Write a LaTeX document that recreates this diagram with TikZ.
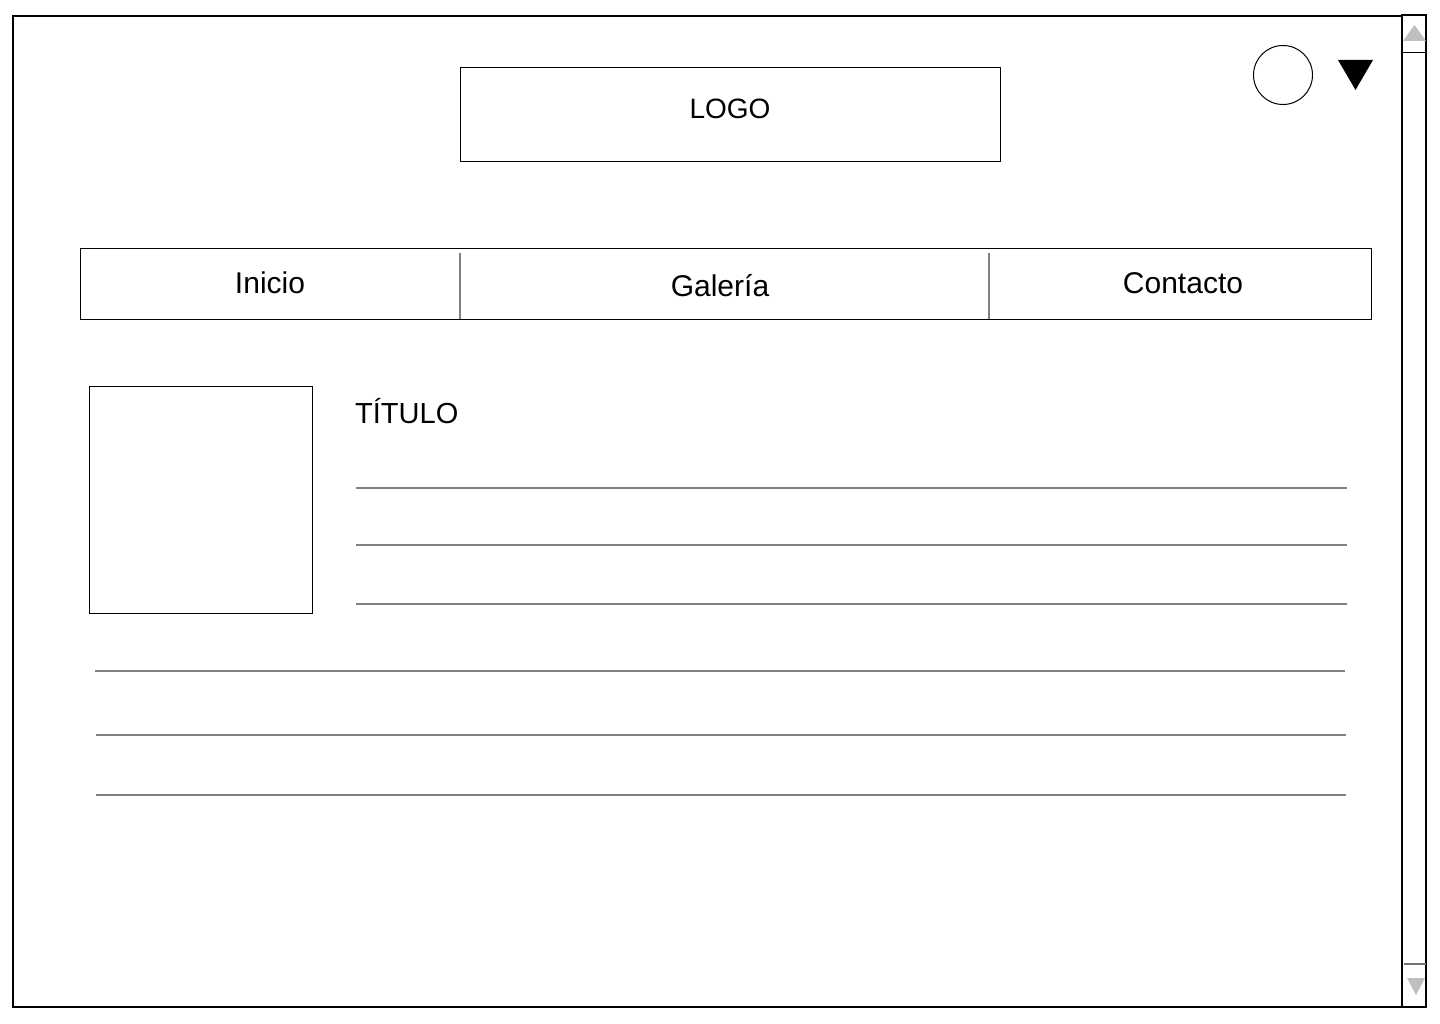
\documentclass[tikz,border=0pt]{standalone}
\usepackage{fontspec}
\setmainfont{Liberation Sans}
\begin{document}
\begin{tikzpicture}[x=1pt,y=-1pt,
  box/.style={draw=black,line width=1pt},
  rule/.style={draw=black!50,line width=1.5pt},
  lbl/.style={inner sep=0pt,anchor=base,font=\fontsize{30}{36}\selectfont}]
\useasboundingbox (0,0) rectangle (1440,1024);
\fill[white] (0,0) rectangle (1440,1024);
% frame and scrollbar
\draw[line width=1.3pt] (13,16) rectangle (1402,1007);
\draw[line width=1.3pt] (1402,15) rectangle (1426,1007);
\draw[line width=1pt] (1402,53) -- (1426,53);
\draw[draw=black!55,line width=1.5pt] (1404,964) -- (1426,964);
\fill[black!25] (1403,41) -- (1426,41) -- (1414.5,25) -- cycle;
\fill[black!25] (1407,978) -- (1425,978) -- (1416,995) -- cycle;
% user icons
\node[draw=black,line width=1pt,circle,minimum size=59pt,inner sep=0pt] (avatar) at (1283,75) {};
\fill[black] (1338,60) -- (1373,60) -- (1355.5,90) -- cycle;
% logo
\node[box,minimum width=540pt,minimum height=94pt,inner sep=0pt] (logo) at (730,115) {};
\node[lbl,font=\fontsize{28}{34}\selectfont] (logotxt) at (730,119) {LOGO};
% nav
\draw[box] (80,249) rectangle (1371,319);
\draw[draw=black!50,line width=1.5pt] (460,253) -- (460,319);
\draw[draw=black!50,line width=1.5pt] (989,253) -- (989,319);
\node[lbl] (inicio) at (270,294) {Inicio};
\node[lbl] (galeria) at (720,297) {Galería};
\node[lbl] (contacto) at (1183,294) {Contacto};
% content
\node[box,minimum width=223pt,minimum height=227pt,inner sep=0pt] (img) at (200.5,499.5) {};
\node[lbl,anchor=base west,font=\fontsize{29}{35}\selectfont] (titulo) at (355,423) {TÍTULO};
\draw[rule] (356,488) -- (1347,488);
\draw[rule] (356,545) -- (1347,545);
\draw[rule] (356,604) -- (1347,604);
\draw[rule] (95,671) -- (1345,671);
\draw[rule] (96,735) -- (1346,735);
\draw[rule] (96,795) -- (1346,795);
\end{tikzpicture}
\end{document}
